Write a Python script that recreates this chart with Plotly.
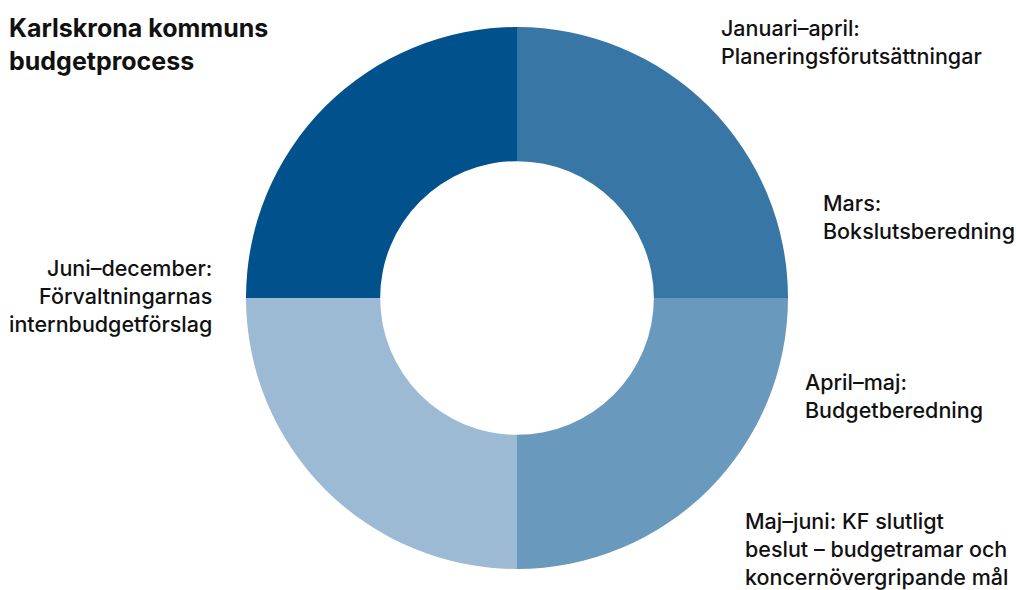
import plotly.graph_objects as go

W, H = 1016, 590

phases = ["Januari–april", "Mars–april", "April–maj", "Juni–december"]
values = [1, 1, 1, 1]
colors = ["#3776A5", "#6A99BE", "#9CBAD3", "#00518C"]

title_text = "Karlskrona kommuns<br>budgetprocess"
label_texts = [
    "Januari–april:<br>Planeringsförutsättningar",
    "Mars:<br>Bokslutsberedning",
    "April–maj:<br>Budgetberedning",
    "Maj–juni: KF slutligt<br>beslut – budgetramar och<br>koncernövergripande mål",
    "Juni–december:<br>Förvaltningarnas<br>internbudgetförslag",
]
label_pos = [(719, 13, "left"), (821, 188, "left"), (803, 367, "left"),
             (743, 506, "left"), (214, 253, "right")]

def px(x):
    return x / W

def py(y):
    return 1 - y / H

fig = go.Figure(go.Pie(
    labels=phases,
    values=values,
    marker=dict(colors=colors, line=dict(width=0)),
    hole=0.505,
    sort=False,
    direction="clockwise",
    rotation=0,
    textinfo="none",
    hoverinfo="none",
    showlegend=False,
    domain=dict(x=[px(246), px(788)], y=[py(569), py(27)]),
))

annots = [dict(text=title_text, x=px(7), y=py(11), xref="paper", yref="paper",
               xanchor="left", yanchor="top", align="left", showarrow=False,
               font=dict(family="Inter", size=25, color="#111111", weight="bold"))]
for t, (x, y, al) in zip(label_texts, label_pos):
    annots.append(dict(text=t, x=px(x), y=py(y), xref="paper", yref="paper",
                       xanchor="left" if al == "left" else "right", yanchor="top",
                       align=al, showarrow=False,
                       font=dict(family="Inter", size=21.5, color="#111111", weight=500)))

fig.update_layout(
    width=W, height=H,
    margin=dict(l=0, r=0, t=0, b=0),
    paper_bgcolor="white", plot_bgcolor="white",
    annotations=annots,
)

fig.write_html("out.html",
               config={"displayModeBar": False},
               post_script="document.body.style.margin='0';document.body.style.overflow='hidden';")
